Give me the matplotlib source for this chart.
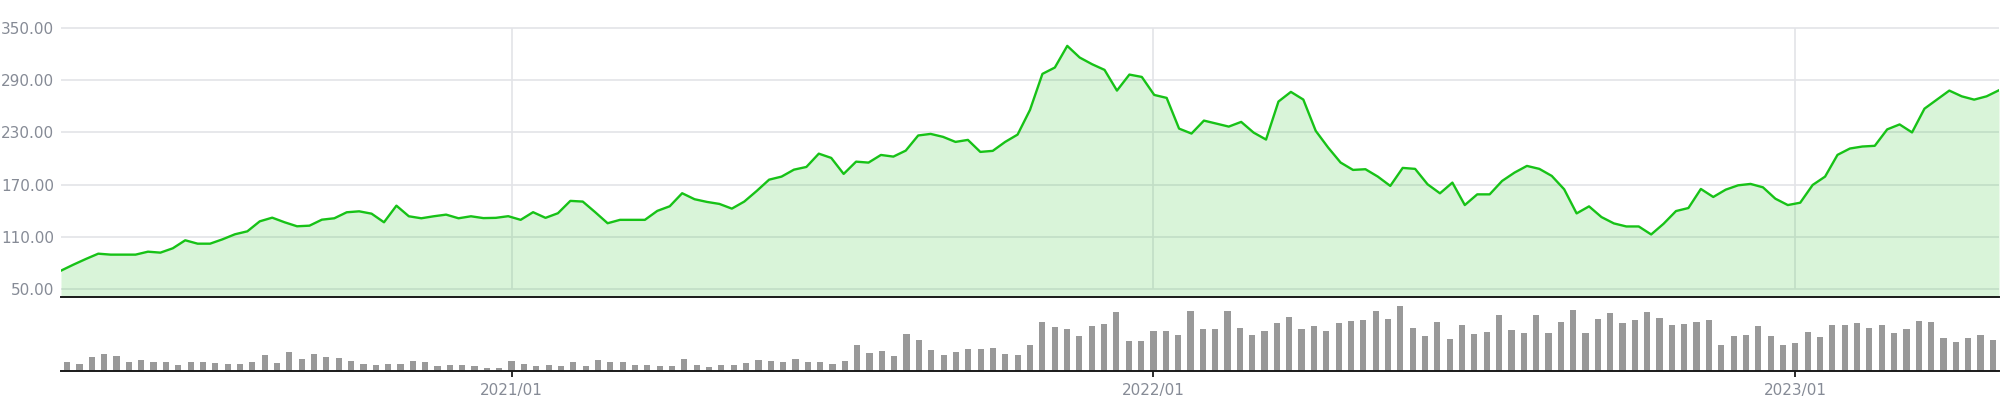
import numpy as np
import pandas as pd
import matplotlib
matplotlib.use("Agg")
import matplotlib.pyplot as plt

# weekly points, first one is the week of 2020/04/27
dates = pd.date_range("2020-04-27", periods=157, freq="7D")

price = [71.1, 78.0, 84.5, 90.6, 89.5, 89.5, 89.5, 92.9, 91.8, 96.8,
         106.0, 102.1, 102.1, 107.1, 112.9, 116.3, 127.8, 132.0, 126.7, 122.1,
         122.8, 129.7, 131.3, 138.2, 139.3, 136.6, 126.7, 145.8, 133.6, 131.3,
         133.6, 135.5, 131.3, 133.6, 131.5, 131.8, 133.7, 129.5, 138.3, 131.8,
         137.1, 151.3, 150.5, 138.3, 125.6, 129.5, 129.5, 129.5, 139.8, 145.1,
         160.1, 153.2, 150.1, 147.8, 142.4, 150.5, 162.7, 175.7, 179.2, 187.2,
         190.3, 205.6, 200.7, 182.3, 196.4, 195.3, 204.1, 202.2, 209.1, 226.5,
         228.3, 224.9, 219.1, 221.4, 207.6, 208.8, 219.1, 227.5, 255.9, 297.3,
         304.6, 329.5, 316.1, 308.4, 301.9, 278.1, 296.5, 293.8, 273.1, 269.7,
         234.4, 228.7, 243.6, 240.2, 236.7, 242.1, 229.8, 221.8, 265.5, 276.6,
         267.8, 231.8, 212.6, 195.4, 186.9, 187.7, 179.2, 168.5, 189.2, 188.1,
         170.4, 160.0, 172.3, 146.5, 158.8, 158.8, 174.2, 183.8, 191.5, 188.1,
         180.0, 164.6, 136.9, 145.0, 132.7, 125.4, 121.9, 121.9, 112.7, 125.0,
         139.6, 143.1, 165.0, 155.8, 164.2, 169.2, 170.8, 166.9, 153.8, 146.5,
         149.2, 169.6, 179.2, 204.2, 211.5, 213.8, 214.6, 233.5, 239.2, 230.0,
         257.3, 267.7, 278.1, 271.5, 267.7, 271.5, 278.5]

volume = [28, 21, 42, 51, 45, 27, 33, 27, 27, 18,
          27, 27, 24, 21, 21, 27, 48, 24, 57, 36,
          51, 42, 39, 30, 21, 18, 21, 21, 30, 27,
          15, 18, 18, 15, 9, 8, 29, 20, 14, 17,
          14, 26, 14, 32, 26, 26, 17, 17, 14, 14,
          35, 17, 12, 18, 18, 24, 33, 30, 27, 36,
          27, 27, 21, 30, 78, 54, 60, 45, 111, 93,
          63, 48, 57, 66, 66, 69, 51, 48, 78, 147,
          132, 126, 105, 135, 141, 177, 90, 90, 120, 120,
          108, 180, 126, 126, 180, 129, 108, 120, 144, 162,
          126, 135, 120, 144, 150, 152, 179, 155, 194, 128,
          104, 146, 95, 137, 110, 116, 167, 122, 113, 167,
          113, 146, 182, 113, 155, 173, 143, 152, 176, 158,
          137, 140, 146, 152, 77, 104, 107, 134, 104, 77,
          83, 116, 101, 137, 137, 143, 128, 137, 113, 125,
          149, 146, 98, 86, 98, 107, 92]

yticks = [50, 110, 170, 230, 290, 350]

green = "#17c217"
grey_txt = "#868b96"
grid_c = "#e3e4e8"

n = len(price)
x = np.arange(n)

# ticks where a new year starts
tick_idx = [i for i in range(1, n) if dates[i].year != dates[i - 1].year]
tick_lab = [dates[i].strftime("%Y/%m") for i in tick_idx]

fig = plt.figure(figsize=(20, 4), dpi=100)
ax = fig.add_axes([0.0305, 0.2575, 0.969, 0.705])
axv = fig.add_axes([0.0305, 0.0725, 0.969, 0.1825])

# price area
ax.set_xlim(0, n - 1)
ax.set_ylim(40.8, 365)
for v in yticks:
    ax.axhline(v, color=grid_c, lw=1.2, zorder=1)
# the vertical grid sits on the same spots as the bar ticks below
for i in tick_idx:
    ax.vlines((i + 0.5) * (n - 1) / n, 50, 350, color=grid_c, lw=1.2, zorder=1)
ax.fill_between(x, price, 40.8, color="#22c322", alpha=0.17, lw=0, zorder=2)
ax.plot(x, price, color=green, lw=1.7, zorder=3)

ax.set_yticks(yticks)
ax.set_yticklabels(["%.2f" % v for v in yticks])
ax.tick_params(axis="y", length=0, pad=5, labelsize=11, labelcolor=grey_txt)
ax.set_xticks([])
for s in ["top", "right", "left"]:
    ax.spines[s].set_visible(False)
ax.spines["bottom"].set_color("#1a1a1a")
ax.spines["bottom"].set_linewidth(1.4)
ax.spines["bottom"].set_zorder(5)

# volume bars
axv.bar(x, volume, width=0.5, color="#999999")
axv.set_xlim(-0.5, n - 0.5)
axv.set_ylim(0, 219)
axv.set_yticks([])
axv.set_xticks(tick_idx)
axv.set_xticklabels(tick_lab)
axv.tick_params(axis="x", length=4, width=1.3, color="#1a1a1a", pad=5,
                labelsize=11, labelcolor=grey_txt)
for s in ["top", "right", "left"]:
    axv.spines[s].set_visible(False)
axv.spines["bottom"].set_color("#1a1a1a")
axv.spines["bottom"].set_linewidth(1.4)

fig.savefig("out.png", dpi=100)
